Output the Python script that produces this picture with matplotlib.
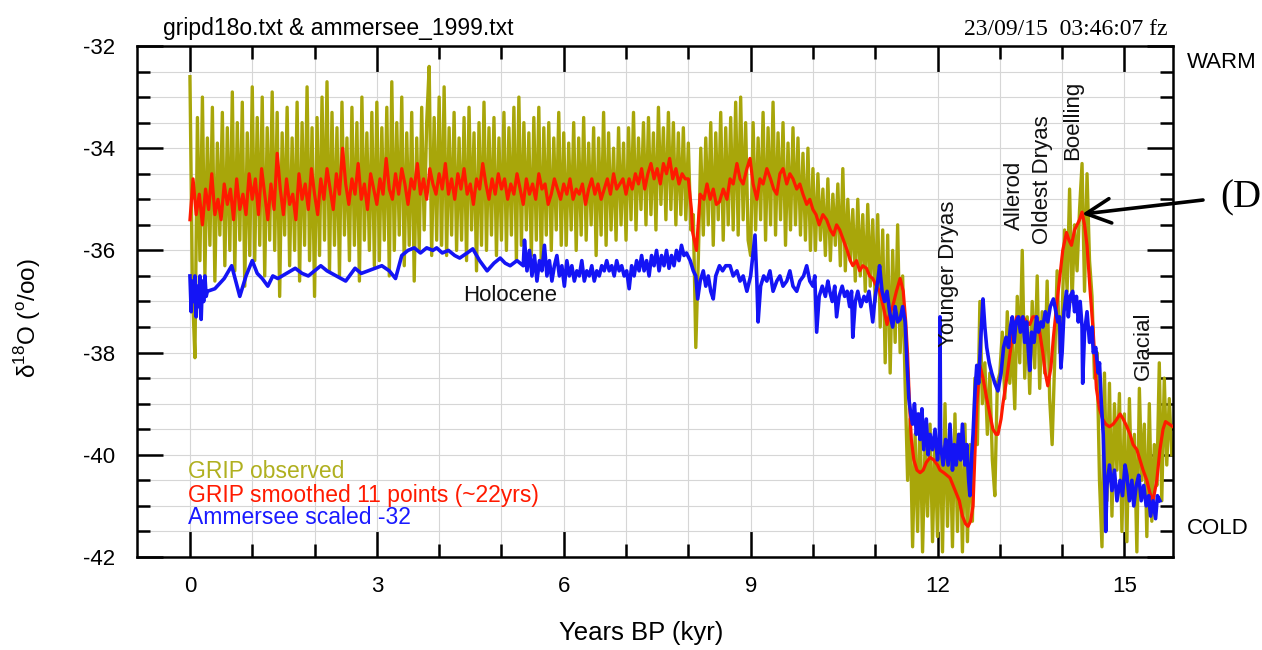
import numpy as np
import matplotlib
matplotlib.use('Agg')
import matplotlib.pyplot as plt
from matplotlib.ticker import MultipleLocator, FixedLocator, FuncFormatter

plt.rcParams['font.family'] = ['Liberation Sans', 'DejaVu Sans']
plt.rcParams['mathtext.fontset'] = 'custom'
plt.rcParams['mathtext.rm'] = 'Liberation Sans'

# ---------------- data ----------------
# GRIP observed d18O, sampled every 0.04 kyr from 0 kyr BP
GRIP_STEP = 0.04
grip_observed = [
    # 0-1 kyr
    -32.6, -36.8, -38.1, -33.4, -36.2, -33.0, -36.5, -33.8, -35.9, -33.2, -36.6, -33.9, -35.7,
    -33.3, -36.3, -33.6, -36.0, -32.9, -36.4, -33.5, -35.8, -33.1, -36.7, -33.7, -36.1,
    # 1-2
    -32.8, -36.2, -33.4, -35.9, -33.0, -36.5, -33.6, -35.8, -32.9, -36.0, -33.3, -36.9, -33.7,
    -35.7, -33.2, -36.3, -33.8, -36.0, -33.1, -36.6, -33.5, -35.9, -32.8, -36.2, -33.6,
    # 2-3
    -36.9, -33.4, -36.1, -33.0, -35.8, -32.7, -36.4, -33.3, -35.9, -33.6, -36.5, -33.1, -35.7,
    -33.8, -36.2, -33.2, -35.9, -33.5, -36.6, -33.0, -35.8, -33.7, -36.0, -33.3, -36.3,
    # 3-4
    -33.1, -36.2, -33.6, -35.8, -33.2, -36.5, -32.7, -36.0, -33.5, -35.7, -33.0, -36.3, -33.7,
    -35.9, -33.3, -36.6, -33.8, -36.0, -33.2, -35.6, -33.5, -32.4, -36.1, -33.4, -35.8,
    # 4-5
    -33.0, -35.9, -32.8, -36.1, -33.6, -35.7, -33.3, -36.0, -33.8, -35.8, -33.4, -36.2, -33.2,
    -35.6, -33.7, -36.4, -33.5, -35.9, -33.1, -36.0, -33.6, -35.7, -33.4, -36.1, -33.8,
    # 5-6
    -35.8, -33.3, -36.0, -33.6, -35.7, -33.2, -36.2, -33.0, -35.9, -33.5, -35.6, -33.7, -36.1,
    -33.4, -35.8, -33.2, -36.3, -33.6, -35.7, -33.5, -36.0, -33.8, -35.6, -33.3, -35.9,
    # 6-7
    -33.7, -35.9, -33.9, -35.6, -33.5, -36.0, -33.8, -35.7, -33.4, -35.8, -33.9, -35.5, -33.6,
    -36.1, -33.8, -35.7, -33.3, -35.9, -33.7, -35.6, -34.0, -35.8, -33.6, -35.5, -33.9,
    # 7-8
    -35.8, -33.6, -35.4, -33.3, -35.6, -33.8, -35.2, -33.5, -35.5, -33.4, -35.3, -33.7, -35.6,
    -33.2, -35.1, -33.6, -35.4, -33.3, -35.2, -33.5, -35.5, -33.7, -35.3, -33.6, -35.4,
    # 8-9
    -33.9, -35.6, -35.3, -37.9, -36.2, -34.0, -35.7, -33.8, -35.5, -33.5, -35.9, -33.7, -35.4,
    -33.3, -35.8, -33.6, -35.5, -33.4, -35.6, -33.1, -35.7, -33.0, -35.4, -33.5, -35.8,
    # 9-10
    -36.1, -33.5, -35.6, -33.8, -35.4, -33.3, -35.8, -33.6, -35.5, -33.1, -35.7, -33.7, -35.4,
    -33.5, -35.9, -33.9, -35.6, -33.6, -35.5, -33.8, -35.7, -34.1, -35.8, -34.0, -36.0,
    # 10-11
    -34.4, -36.0, -34.5, -35.8, -34.8, -36.1, -34.6, -36.2, -34.9, -35.9, -34.7, -36.3, -34.4,
    -36.4, -35.0, -36.2, -35.2, -36.6, -35.0, -36.5, -35.3, -36.8, -35.1, -36.7, -35.4,
    # 11-12
    -37.0, -35.3, -37.5, -35.6, -38.2, -35.7, -38.4, -36.0, -37.8, -35.5, -38.0, -36.5, -38.6,
    -40.5, -39.3, -41.8, -39.6, -41.5, -39.2, -41.9, -39.8, -41.2, -39.4, -41.7, -39.7,
    # 12-13
    -41.6, -39.3, -41.9, -39.0, -41.4, -39.5, -41.8, -39.2, -41.5, -39.6, -41.9, -39.4, -41.7,
    -39.8, -41.3, -38.5, -39.8, -37.0, -39.0, -38.2, -39.6, -38.4, -40.1, -40.8, -38.6,
    # 13-14
    -38.4, -37.6, -38.9, -37.2, -38.6, -37.8, -39.1, -36.9, -38.2, -36.0, -38.5, -37.3, -38.8,
    -37.0, -38.3, -36.5, -38.7, -37.2, -38.4, -36.6, -38.9, -39.8, -38.2, -36.4, -38.0,
    # 14-15
    -37.3, -35.6, -36.8, -34.8, -37.0, -35.5, -36.4, -35.2, -34.3, -36.8, -34.5, -36.2, -36.9,
    -38.5, -38.0, -40.5, -41.8, -38.4, -40.9, -38.6, -41.2, -39.0, -40.3, -38.8, -41.5,
    # 15-15.76
    -39.2, -41.7, -38.9, -40.8, -39.6, -41.9, -38.7, -40.5, -39.4, -41.6, -39.0, -41.3, -39.8,
    -40.6, -38.2, -40.9, -38.5, -40.2, -38.9, -40.0,
]

# GRIP smoothed (11 points), Holocene part sampled every 0.05 kyr from 0 kyr BP
SMOOTH_STEP = 0.05
grip_smooth_holocene = [
    -35.4, -34.6, -35.3, -34.9, -35.5, -34.8, -35.2, -34.5, -35.3, -35.0, -35.4, -34.7, -35.1, -34.8, -35.4, -34.6, -35.2, -34.9, -35.3, -34.5,
    -35.0, -34.6, -35.3, -34.4, -34.9, -35.4, -34.7, -35.2, -34.1, -34.8, -35.3, -34.6, -35.1, -34.9, -35.4, -34.5, -35.0, -34.7, -35.2, -34.4,
    -34.9, -35.3, -34.6, -35.0, -34.4, -34.8, -35.2, -34.5, -34.9, -34.0, -34.7, -35.1, -34.6, -34.9, -34.3, -35.0, -34.7, -35.2, -34.5, -34.8,
    -35.1, -34.6, -34.9, -34.2, -34.8, -35.0, -34.5, -34.9, -34.4, -34.7, -35.1, -34.6, -34.8, -34.3, -34.9, -34.6, -35.0, -34.4, -34.7, -34.9,
    -34.5, -34.8, -34.3, -34.9, -34.6, -35.0, -34.5, -34.8, -34.4, -34.9, -34.7, -35.1, -34.6, -34.8, -34.3, -34.7, -35.0, -34.6, -34.9, -34.5,
    -34.8, -34.6, -35.0, -34.7, -34.9, -34.5, -34.8, -35.1, -34.6, -34.9, -34.7, -35.0, -34.5, -34.8, -34.7, -35.1, -34.9, -34.6, -34.8, -35.0,
    -34.7, -34.9, -34.6, -35.0, -34.8, -34.9, -34.7, -35.1, -34.8, -34.6, -34.9, -34.7, -35.0, -34.8, -34.6, -34.9, -34.5, -34.8, -34.7, -34.6,
    -34.9, -34.6, -34.8, -34.5, -34.7, -34.4, -34.8, -34.5, -34.3, -34.6, -34.4, -34.7, -34.3, -34.5, -34.2, -34.6, -34.4, -34.7, -34.5, -34.6,
]

# GRIP smoothed, from 8 kyr BP on: (kyr BP, d18O)
grip_smooth_late = [
    (8.00, -34.6), (8.05, -35.2), (8.07, -35.65), (8.13, -36.0), (8.19, -34.9), (8.25, -35.0), (8.30, -34.7),
    (8.35, -35.0), (8.40, -34.8), (8.45, -35.1), (8.50, -35.05), (8.56, -34.8), (8.62, -35.0), (8.67, -34.6),
    (8.72, -34.7), (8.78, -34.3), (8.83, -34.6), (8.88, -34.7), (8.94, -34.4), (8.99, -34.2), (9.04, -34.7),
    (9.10, -35.0), (9.15, -34.6), (9.20, -34.7), (9.26, -34.4), (9.32, -34.6), (9.37, -34.8), (9.42, -34.9),
    (9.47, -34.5), (9.52, -34.4), (9.58, -34.7), (9.63, -34.5), (9.68, -34.6), (9.74, -34.8), (9.79, -34.7),
    (9.84, -34.9), (9.90, -35.1), (9.95, -35.0), (10.00, -35.2), (10.05, -35.3), (10.10, -35.5), (10.16, -35.3),
    (10.22, -35.4), (10.28, -35.6), (10.33, -35.7), (10.38, -35.5), (10.43, -35.6), (10.49, -35.8), (10.55, -36.0),
    (10.60, -36.2), (10.64, -36.3), (10.70, -36.2), (10.75, -36.4), (10.80, -36.3), (10.86, -36.35), (10.91, -36.5),
    (10.96, -36.55), (11.02, -36.7), (11.07, -36.8), (11.13, -37.1), (11.19, -37.45), (11.24, -37.2), (11.28, -37.1),
    (11.34, -36.8), (11.40, -36.55), (11.45, -36.8), (11.49, -37.4), (11.52, -38.05), (11.55, -39.0), (11.58, -39.7),
    (11.62, -40.1), (11.67, -40.3), (11.72, -40.35), (11.77, -40.3), (11.82, -40.15), (11.88, -40.05), (11.94, -40.1),
    (12.00, -40.2), (12.04, -40.3), (12.10, -40.35), (12.15, -40.4), (12.20, -40.45), (12.25, -40.6), (12.30, -40.75),
    (12.35, -40.9), (12.40, -41.2), (12.45, -41.35), (12.49, -41.4), (12.53, -41.3), (12.57, -41.0), (12.60, -40.0),
    (12.63, -39.0), (12.68, -38.25), (12.73, -38.5), (12.79, -38.9), (12.84, -39.2), (12.89, -39.5), (12.94, -39.6),
    (12.97, -39.6), (13.02, -39.3), (13.05, -39.0), (13.10, -38.6), (13.16, -38.05), (13.21, -37.6), (13.27, -37.3),
    (13.32, -37.35), (13.37, -37.3), (13.43, -37.4), (13.48, -37.45), (13.53, -37.3), (13.59, -37.3), (13.64, -37.6),
    (13.69, -38.0), (13.73, -38.4), (13.77, -38.65), (13.82, -38.3), (13.86, -37.7), (13.91, -37.1), (13.96, -36.55),
    (14.01, -36.0), (14.07, -35.65), (14.11, -35.8), (14.15, -35.9), (14.20, -35.6), (14.24, -35.5), (14.28, -35.4),
    (14.32, -35.25), (14.36, -35.5), (14.40, -35.9), (14.45, -36.8), (14.50, -37.6), (14.55, -38.7), (14.60, -39.1),
    (14.65, -39.3), (14.70, -39.4), (14.76, -39.45), (14.82, -39.4), (14.88, -39.3), (14.93, -39.2), (14.98, -39.3),
    (15.04, -39.45), (15.09, -39.6), (15.14, -39.8), (15.20, -39.9), (15.25, -40.1), (15.30, -40.3), (15.36, -40.5),
    (15.41, -40.75), (15.46, -40.9), (15.52, -40.5), (15.57, -39.9), (15.62, -39.5), (15.66, -39.35), (15.72, -39.4),
    (15.78, -39.45),
]

# Ammersee d18O scaled -32: (kyr BP, d18O)
ammersee = [
    (0.00, -36.5), (0.02, -37.2), (0.04, -36.6), (0.06, -37.0), (0.08, -36.5), (0.10, -37.3), (0.12, -36.7),
    (0.14, -37.1), (0.16, -36.5), (0.18, -37.35), (0.20, -36.6), (0.22, -37.0), (0.24, -36.5), (0.26, -36.9),
    (0.28, -36.8), (0.40, -36.75), (0.55, -36.55), (0.67, -36.3), (0.80, -36.9), (0.90, -36.5), (1.00, -36.2),
    (1.08, -36.45), (1.16, -36.55), (1.25, -36.7), (1.33, -36.5), (1.41, -36.55), (1.55, -36.45), (1.69, -36.35),
    (1.80, -36.45), (1.90, -36.5), (2.00, -36.4), (2.10, -36.3), (2.20, -36.4), (2.35, -36.5), (2.50, -36.6),
    (2.65, -36.35), (2.75, -36.45), (2.86, -36.4), (2.97, -36.35), (3.08, -36.3), (3.20, -36.4), (3.30, -36.55),
    (3.40, -36.1), (3.50, -36.0), (3.60, -35.95), (3.70, -36.05), (3.80, -35.95), (3.90, -36.0), (3.96, -35.95),
    (4.05, -36.05), (4.15, -36.0), (4.25, -36.1), (4.33, -36.15), (4.45, -36.05), (4.54, -35.97), (4.65, -36.2),
    (4.77, -36.4), (4.88, -36.25), (4.98, -36.15), (5.06, -36.25), (5.14, -36.3), (5.25, -36.2), (5.35, -36.3),
    (5.37, -35.8), (5.41, -36.4), (5.45, -36.0), (5.49, -36.5), (5.53, -36.1), (5.57, -36.6), (5.61, -36.2),
    (5.65, -36.4), (5.69, -35.9), (5.73, -36.5), (5.77, -36.2), (5.81, -36.6), (5.85, -36.3), (5.89, -36.1),
    (5.93, -36.5), (5.97, -36.3), (6.01, -36.7), (6.05, -36.2), (6.09, -36.5), (6.13, -36.3), (6.17, -36.6),
    (6.21, -36.4), (6.25, -36.5), (6.29, -36.2), (6.33, -36.6), (6.37, -36.4), (6.41, -36.5), (6.45, -36.3),
    (6.49, -36.6), (6.53, -36.4), (6.57, -36.5), (6.61, -36.3), (6.65, -36.4), (6.69, -36.2), (6.73, -36.4),
    (6.77, -36.3), (6.81, -36.5), (6.85, -36.2), (6.89, -36.4), (6.93, -36.3), (6.97, -36.5), (7.01, -36.4),
    (7.05, -36.75), (7.09, -36.3), (7.13, -36.5), (7.17, -36.2), (7.21, -36.4), (7.25, -36.1), (7.29, -36.4),
    (7.33, -36.2), (7.37, -36.5), (7.41, -36.1), (7.45, -36.3), (7.49, -36.0), (7.53, -36.4), (7.57, -36.1),
    (7.61, -36.3), (7.65, -36.0), (7.69, -36.35), (7.73, -36.1), (7.77, -36.3), (7.81, -36.0), (7.85, -36.2),
    (7.89, -35.9), (7.93, -36.1), (7.97, -36.05), (8.03, -36.2), (8.08, -36.4), (8.12, -36.5), (8.15, -36.95),
    (8.19, -36.6), (8.24, -36.4), (8.28, -36.7), (8.32, -36.5), (8.36, -36.8), (8.40, -36.95), (8.44, -36.5),
    (8.50, -36.3), (8.55, -36.4), (8.60, -36.3), (8.67, -36.3), (8.72, -36.5), (8.78, -36.4), (8.83, -36.6),
    (8.88, -36.5), (8.94, -36.8), (9.00, -36.5), (9.07, -35.7), (9.10, -36.6), (9.12, -37.4), (9.16, -36.7),
    (9.21, -36.5), (9.26, -36.6), (9.31, -36.4), (9.36, -36.8), (9.42, -36.6), (9.47, -36.5), (9.52, -36.7),
    (9.58, -36.6), (9.63, -36.4), (9.68, -36.7), (9.74, -36.8), (9.79, -36.6), (9.85, -36.5), (9.90, -36.3),
    (9.95, -36.6), (10.00, -36.7), (10.03, -36.5), (10.06, -37.6), (10.10, -36.9), (10.15, -36.7), (10.20, -36.9),
    (10.24, -36.6), (10.27, -36.8), (10.31, -37.0), (10.35, -36.7), (10.38, -37.3), (10.42, -36.9), (10.47, -36.7),
    (10.51, -36.9), (10.55, -36.8), (10.59, -37.1), (10.62, -36.8), (10.64, -37.7), (10.68, -37.0), (10.72, -36.8),
    (10.77, -37.1), (10.82, -36.9), (10.86, -37.0), (10.90, -36.8), (10.96, -37.4), (11.00, -36.9), (11.04, -36.6),
    (11.07, -36.3), (11.11, -36.8), (11.15, -37.0), (11.19, -36.8), (11.23, -37.2), (11.28, -37.5), (11.32, -37.1),
    (11.36, -37.4), (11.40, -37.35), (11.44, -37.1), (11.48, -37.4), (11.51, -38.2), (11.54, -38.9), (11.57, -39.2),
    (11.60, -39.4), (11.63, -39.0), (11.66, -39.6), (11.69, -39.2), (11.72, -39.7), (11.75, -39.1), (11.78, -39.9),
    (11.82, -39.3), (11.85, -40.0), (11.88, -39.6), (11.92, -39.9), (11.96, -39.5), (12.00, -40.1), (12.03, -39.7),
    (12.04, -37.3), (12.05, -39.8), (12.09, -40.2), (12.13, -39.7), (12.17, -40.2), (12.20, -39.4), (12.24, -40.3),
    (12.27, -39.8), (12.30, -40.2), (12.34, -39.6), (12.37, -40.1), (12.40, -39.4), (12.44, -40.2), (12.47, -39.8),
    (12.50, -40.5), (12.52, -40.8), (12.55, -40.0), (12.57, -39.6), (12.60, -38.8), (12.63, -38.25), (12.66, -38.6),
    (12.70, -37.6), (12.73, -36.95), (12.76, -37.5), (12.79, -37.9), (12.83, -38.2), (12.87, -38.4), (12.92, -38.6),
    (12.97, -38.75), (13.02, -38.4), (13.06, -37.9), (13.10, -37.7), (13.14, -37.9), (13.17, -37.5), (13.20, -37.3),
    (13.23, -37.8), (13.26, -37.4), (13.30, -37.3), (13.33, -37.6), (13.37, -37.3), (13.40, -37.8), (13.43, -37.4),
    (13.46, -38.0), (13.48, -38.35), (13.51, -37.6), (13.55, -37.8), (13.59, -37.3), (13.62, -37.6), (13.66, -37.4),
    (13.69, -37.5), (13.73, -37.2), (13.77, -37.4), (13.81, -37.1), (13.86, -36.95), (13.90, -37.2), (13.93, -37.4),
    (13.96, -37.3), (13.98, -38.3), (14.00, -38.0), (14.03, -37.2), (14.07, -36.8), (14.10, -37.3), (14.13, -36.9),
    (14.17, -36.8), (14.20, -37.2), (14.23, -36.9), (14.26, -37.4), (14.29, -37.0), (14.32, -37.5), (14.33, -38.6),
    (14.36, -37.6), (14.40, -37.2), (14.44, -37.8), (14.48, -37.5), (14.50, -38.0), (14.54, -37.9), (14.58, -38.4),
    (14.60, -38.2), (14.63, -39.0), (14.66, -39.6), (14.69, -40.8), (14.70, -41.5), (14.72, -40.6), (14.76, -40.2),
    (14.80, -40.7), (14.84, -40.3), (14.88, -40.9), (14.93, -40.5), (14.97, -40.8), (15.01, -40.2), (15.04, -40.4),
    (15.08, -40.9), (15.12, -40.5), (15.15, -41.0), (15.19, -40.6), (15.23, -40.4), (15.27, -40.9), (15.31, -40.6),
    (15.35, -41.0), (15.39, -40.8), (15.42, -41.2), (15.46, -40.9), (15.50, -41.25), (15.53, -40.8), (15.57, -40.9),
]

x_major_ticks = [0, 3, 6, 9, 12, 15]
y_major_ticks = [-32, -34, -36, -38, -40, -42]

period_labels = [
    ("Holocene", 5.14, -36.88, 0),
    ("Younger Dryas", 12.17, -36.45, 90),
    ("Allerod", 13.24, -34.93, 90),
    ("Oldest Dryas", 13.68, -34.62, 90),
    ("Boelling", 14.17, -33.45, 90),
    ("Glacial", 15.30, -37.87, 90),
]

legend_entries = [
    ("GRIP observed", "#b0b020", -40.32),
    ("GRIP smoothed 11 points (~22yrs)", "#ff1a00", -40.79),
    ("Ammersee scaled -32", "#1a1aff", -41.22),
]

# ---------------- figure ----------------
W, H = 1262, 650
fig = plt.figure(figsize=(W / 100, H / 100), dpi=100)
ax = fig.add_axes([137 / W, 1 - 557 / H, (1173 - 137) / W, (557 - 46) / H])

obs = np.array(grip_observed)
obs_years = GRIP_STEP * np.arange(len(obs))
sm_h = np.array(grip_smooth_holocene)
sm_h_years = SMOOTH_STEP * np.arange(len(sm_h))
late_years, late_vals = zip(*grip_smooth_late)
sm_years = np.concatenate([sm_h_years, late_years])
sm_vals = np.concatenate([sm_h, late_vals])
am_years, am_vals = zip(*ammersee)

ax.plot(obs_years, obs, color="#a8a60a", lw=2.4, zorder=2, solid_joinstyle="round")
ax.plot(sm_years, sm_vals, color="#ff1a00", lw=2.3, zorder=3)
ax.plot(am_years, am_vals, color="#1414f5", lw=2.6, zorder=4)

ax.set_xlim(-0.85, 15.78)
ax.set_ylim(-42, -32)

ax.xaxis.set_major_locator(FixedLocator(x_major_ticks))
ax.xaxis.set_minor_locator(MultipleLocator(1))
ax.yaxis.set_major_locator(FixedLocator(y_major_ticks))
ax.yaxis.set_minor_locator(MultipleLocator(0.5))
ax.yaxis.set_major_formatter(FuncFormatter(lambda v, p: f"{v:.0f}"))

ax.tick_params(which="both", direction="in", top=True, right=True,
               labelsize=16, width=1.8, colors="black")
ax.tick_params(which="major", length=19)
ax.tick_params(which="minor", length=9.5)
ax.tick_params(axis="x", which="major", pad=14)
ax.tick_params(axis="y", which="major", pad=16)

ax.grid(which="both", color="#d6d6d6", lw=0.8)
ax.set_axisbelow(True)
for s in ax.spines.values():
    s.set_linewidth(1.8)

for text, x, y, rot in period_labels:
    ax.text(x, y, text, rotation=rot, ha="center", va="center", fontsize=16, color="#111111", zorder=6)

for text, col, y in legend_entries:
    ax.text(-0.03, y, text, color=col, fontsize=16.5, ha="left", va="center", zorder=6)

# titles and side labels
fig.text(163 / W, 1 - 35 / H, "gripd18o.txt & ammersee_1999.txt", fontsize=16.5, ha="left", va="baseline")
fig.text(1168 / W, 1 - 35 / H, "23/09/15  03:46:07 fz", fontsize=17, ha="right", va="baseline",
         family="Liberation Serif")
fig.text(1187 / W, 1 - 62 / H, "WARM", fontsize=16, ha="left", va="center")
fig.text(1187 / W, 1 - 528 / H, "COLD", fontsize=16, ha="left", va="center")
fig.text(641 / W, 1 - 633 / H, "Years BP (kyr)", fontsize=18.5, ha="center", va="center")
fig.text(28 / W, 1 - 318 / H, r"δ$^{\mathrm{18}}$O ($^{\mathrm{o}}$/oo)", fontsize=17.5,
         rotation=90, ha="center", va="center")

# annotation arrow and edge label
ax.annotate("", xy=(14.32, -35.29), xycoords="data",
            xytext=(1203, H - 200), textcoords="figure pixels",
            arrowprops=dict(arrowstyle="->,head_length=1.1,head_width=0.55", lw=2.6,
                            color="black", mutation_scale=16, shrinkA=0, shrinkB=0),
            annotation_clip=False, zorder=7)
fig.text(1220 / W, 1 - 198 / H, "(D", fontsize=28, ha="left", va="center", family="Liberation Serif")

fig.savefig("out.png", dpi=100)
